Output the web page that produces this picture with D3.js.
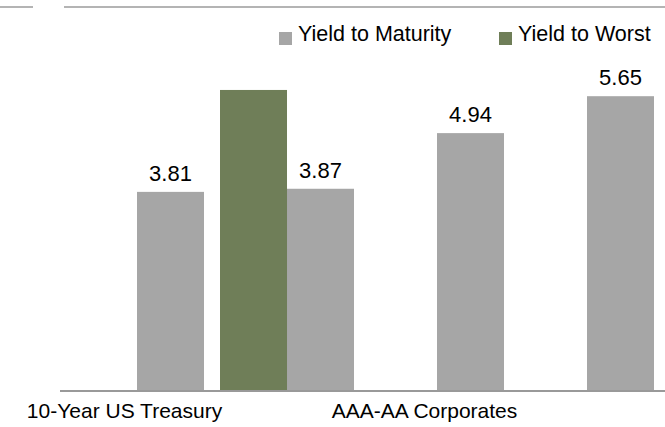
<!DOCTYPE html>
<html>
<head>
<meta charset="utf-8">
<script src="https://cdn.jsdelivr.net/npm/d3@7"></script>
<style>
  body { margin: 0; background: #fff; }
  svg { display: block; font-family: "Liberation Sans", Arial, sans-serif; }
</style>
</head>
<body>
<svg id="chart" width="665" height="427"></svg>
<script>
// data
let categories = ["c1", "c2", "c3", "c4"];
let ytm = [3.81, 3.87, 4.94, 5.65];
let ytw = [5.77, null, null, null];
let tickLabels = ["10-Year US Treasury", "", "AAA-AA Corporates", ""];
let seriesNames = ["Yield to Maturity", "Yield to Worst"];
let colors = ["#a6a6a6", "#6f7e58"];

drawChart();

function drawChart() {
  let svg = d3.select("#chart");

  let baseline = 390;

  let xScale = d3
    .scaleBand()
    .domain(categories)
    .range([137, 654])
    .paddingInner(0.5533)
    .paddingOuter(0);

  let yScale = d3.scaleLinear().domain([0, 7]).range([baseline, 26]);

  // decorative rules at the top
  svg.append("line")
    .attr("x1", 0).attr("x2", 33).attr("y1", 7).attr("y2", 7)
    .attr("stroke", "#b4b4b4").attr("stroke-width", 2);
  svg.append("line")
    .attr("x1", 64).attr("x2", 665).attr("y1", 7).attr("y2", 7)
    .attr("stroke", "#b4b4b4").attr("stroke-width", 2);

  let gap = 16;

  // yield to maturity bars (gray)
  svg.selectAll(".ytm")
    .data(categories)
    .enter()
    .append("rect")
    .attr("class", "ytm")
    .attr("x", (d) => xScale(d))
    .attr("y", (d, i) => yScale(ytm[i]))
    .attr("width", xScale.bandwidth())
    .attr("height", (d, i) => baseline - yScale(ytm[i]))
    .style("fill", colors[0]);

  // yield to worst bars (green), only where there is a value
  let ytwData = categories.map((d, i) => ({ cat: d, v: ytw[i] })).filter((d) => d.v != null);
  svg.selectAll(".ytw")
    .data(ytwData)
    .enter()
    .append("rect")
    .attr("class", "ytw")
    .attr("x", (d) => xScale(d.cat) + xScale.bandwidth() + gap)
    .attr("y", (d) => yScale(d.v))
    .attr("width", xScale.bandwidth())
    .attr("height", (d) => baseline - yScale(d.v))
    .style("fill", colors[1]);

  // value labels on gray bars
  svg.selectAll(".val")
    .data(categories)
    .enter()
    .append("text")
    .attr("class", "val")
    .attr("x", (d) => xScale(d) + xScale.bandwidth() / 2)
    .attr("y", (d, i) => yScale(ytm[i]) - 11)
    .attr("text-anchor", "middle")
    .style("font-size", "22px")
    .style("fill", "#000")
    .text((d, i) => ytm[i].toFixed(2));

  // x axis
  let xAxis = d3.axisBottom(xScale).tickSize(0).tickFormat((d, i) => tickLabels[i]);
  let gx = svg.append("g")
    .attr("transform", `translate(0,${baseline + 1})`)
    .call(xAxis);
  gx.select(".domain").remove();
  gx.append("line")
    .attr("x1", 60).attr("x2", 665).attr("y1", 0).attr("y2", 0)
    .attr("stroke", "#999").attr("stroke-width", 2);
  gx.selectAll(".tick text")
    .attr("x", -46)
    .attr("y", 27)
    .attr("dy", 0)
    .style("font-size", "21px")
    .style("font-family", "Liberation Sans, Arial, sans-serif")
    .style("fill", "#000");

  // legend
  let legendX = [279, 499];
  let legend = svg.selectAll(".legend")
    .data(seriesNames)
    .enter()
    .append("g")
    .attr("class", "legend")
    .attr("transform", (d, i) => `translate(${legendX[i]},0)`);
  legend.append("rect")
    .attr("x", 0).attr("y", 32)
    .attr("width", 13).attr("height", 13)
    .style("fill", (d, i) => colors[i]);
  legend.append("text")
    .attr("x", 19).attr("y", 41)
    .style("font-size", "21.5px")
    .style("fill", "#000")
    .text((d) => d);
}
</script>
</body>
</html>
